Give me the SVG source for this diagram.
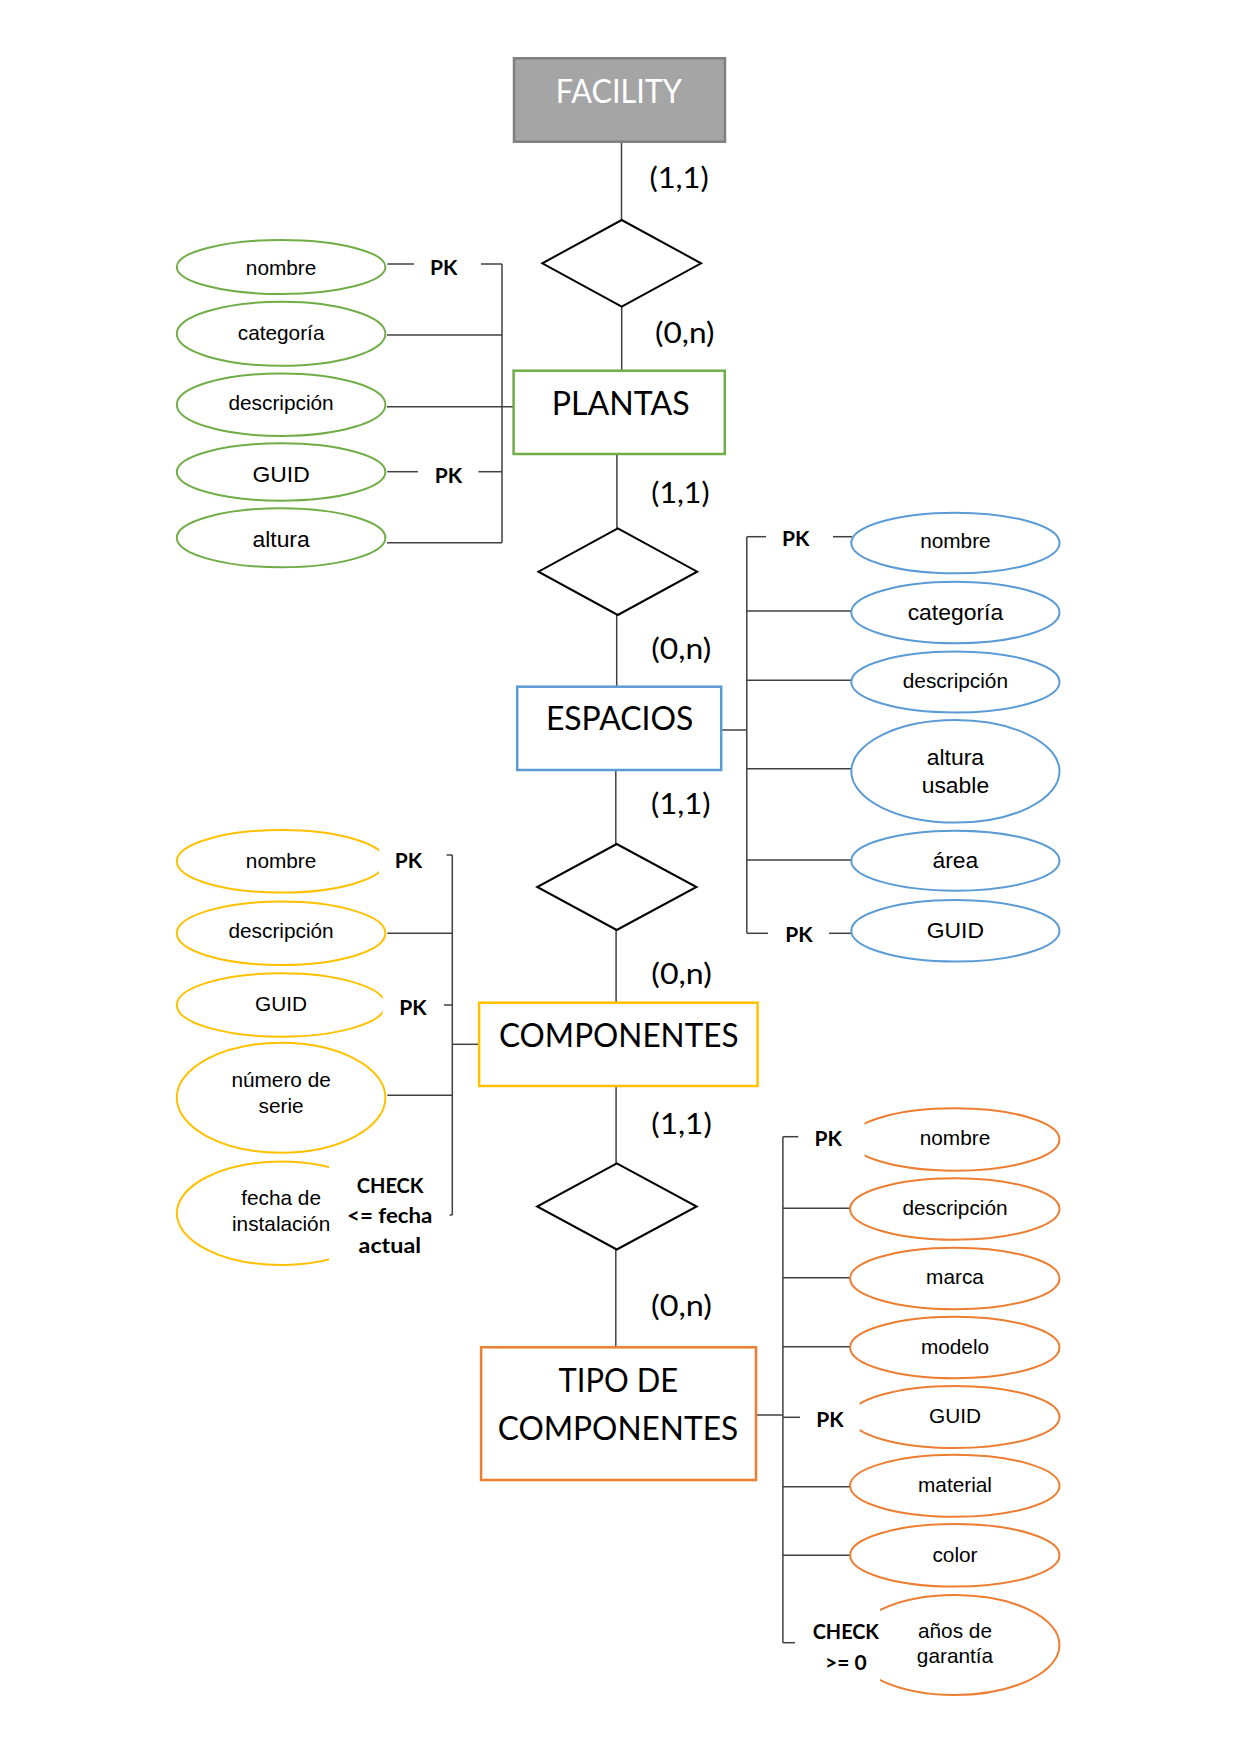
<svg xmlns="http://www.w3.org/2000/svg" width="1241" height="1754" viewBox="0 0 1241 1754">
<style>
.conn{stroke:#404040;stroke-width:1.5;fill:none}
.rel{fill:#fff;stroke:#000;stroke-width:2}
.ent{fill:#fff;stroke-width:2.5}
.attr{fill:#fff;stroke-width:2}
.g{stroke:#70ad47}.b{stroke:#5b9bd5}.y{stroke:#ffc000}.o{stroke:#ed7d31}
.at{font-family:"Liberation Sans",Arial,sans-serif;font-size:20.8px;text-anchor:middle;fill:#000}
.l{font-size:22.9px}
.et{font-family:Lato,"Open Sans",sans-serif;font-size:32.5px;fill:#000}
.card{font-family:Lato,"Open Sans",sans-serif;font-size:29px;fill:#000}
.pk{font-family:Lato,"Open Sans",sans-serif;font-weight:bold;font-size:21px;fill:#000}
.mid{text-anchor:middle}
.mask{fill:#fff;stroke:none}
</style>
<rect width="1241" height="1754" fill="#fff"/>

<g id="connectors">
  <!-- spine -->
  <line class="conn" x1="621.5" y1="141.7" x2="621.5" y2="220"/>
  <line class="conn" x1="621.7" y1="306.7" x2="621.7" y2="370.7"/>
  <line class="conn" x1="616.9" y1="454" x2="616.9" y2="528.3"/>
  <line class="conn" x1="616.7" y1="615" x2="616.7" y2="686.7"/>
  <line class="conn" x1="615.8" y1="770" x2="615.8" y2="844"/>
  <line class="conn" x1="616.1" y1="930" x2="616.1" y2="1002.7"/>
  <line class="conn" x1="616.1" y1="1086" x2="616.1" y2="1163.3"/>
  <line class="conn" x1="615.8" y1="1249.3" x2="615.8" y2="1347.3"/>
  <!-- PLANTAS attributes -->
  <line class="conn" x1="502" y1="264" x2="502" y2="542.7"/>
  <line class="conn" x1="387.3" y1="264" x2="414" y2="264"/>
  <line class="conn" x1="481" y1="264" x2="502" y2="264"/>
  <line class="conn" x1="387" y1="335" x2="502" y2="335"/>
  <line class="conn" x1="387" y1="406.7" x2="513.6" y2="406.7"/>
  <line class="conn" x1="387.3" y1="471.7" x2="417.9" y2="471.7"/>
  <line class="conn" x1="478.4" y1="471.7" x2="502" y2="471.7"/>
  <line class="conn" x1="387" y1="542.7" x2="502" y2="542.7"/>
  <!-- ESPACIOS attributes -->
  <line class="conn" x1="721.2" y1="730" x2="746.8" y2="730"/>
  <line class="conn" x1="746.8" y1="536.7" x2="746.8" y2="933.3"/>
  <line class="conn" x1="746.8" y1="536.7" x2="766" y2="536.7"/>
  <line class="conn" x1="833" y1="536.7" x2="852" y2="536.7"/>
  <line class="conn" x1="746.8" y1="611" x2="851.3" y2="611"/>
  <line class="conn" x1="746.8" y1="680.3" x2="851.3" y2="680.3"/>
  <line class="conn" x1="746.8" y1="768.7" x2="851.3" y2="768.7"/>
  <line class="conn" x1="746.8" y1="860" x2="851.3" y2="860"/>
  <line class="conn" x1="746.8" y1="933.3" x2="768" y2="933.3"/>
  <line class="conn" x1="829" y1="933.3" x2="851.3" y2="933.3"/>
  <!-- COMPONENTES attributes -->
  <line class="conn" x1="452.3" y1="855" x2="452.3" y2="1215"/>
  <line class="conn" x1="446.6" y1="855" x2="452.3" y2="855"/>
  <line class="conn" x1="387.3" y1="933.3" x2="452.3" y2="933.3"/>
  <line class="conn" x1="444" y1="1005" x2="452.3" y2="1005"/>
  <line class="conn" x1="452.3" y1="1044.3" x2="479.1" y2="1044.3"/>
  <line class="conn" x1="387.3" y1="1095.3" x2="452.3" y2="1095.3"/>
  <line class="conn" x1="449.5" y1="1215" x2="452.3" y2="1215"/>
  <!-- TIPO DE COMPONENTES attributes -->
  <line class="conn" x1="756" y1="1415" x2="782.9" y2="1415"/>
  <line class="conn" x1="782.9" y1="1136.7" x2="782.9" y2="1642.7"/>
  <line class="conn" x1="782.9" y1="1136.7" x2="798.3" y2="1136.7"/>
  <line class="conn" x1="782.9" y1="1208.3" x2="850" y2="1208.3"/>
  <line class="conn" x1="782.9" y1="1277.7" x2="850" y2="1277.7"/>
  <line class="conn" x1="782.9" y1="1346.7" x2="850" y2="1346.7"/>
  <line class="conn" x1="782.9" y1="1417.3" x2="800" y2="1417.3"/>
  <line class="conn" x1="782.9" y1="1486.7" x2="850" y2="1486.7"/>
  <line class="conn" x1="782.9" y1="1555.3" x2="850" y2="1555.3"/>
  <line class="conn" x1="782.9" y1="1642.7" x2="795" y2="1642.7"/>
  <!-- cardinalities -->
  <text class="card" x="649.4" y="188" textLength="59.3" lengthAdjust="spacingAndGlyphs">(1,1)</text>
  <text class="card" x="655" y="343" textLength="59.5" lengthAdjust="spacingAndGlyphs">(0,n)</text>
  <text class="card" x="651.3" y="503" textLength="58.2" lengthAdjust="spacingAndGlyphs">(1,1)</text>
  <text class="card" x="651.2" y="658.5" textLength="60" lengthAdjust="spacingAndGlyphs">(0,n)</text>
  <text class="card" x="651" y="813.5" textLength="59.5" lengthAdjust="spacingAndGlyphs">(1,1)</text>
  <text class="card" x="651.3" y="984" textLength="60.5" lengthAdjust="spacingAndGlyphs">(0,n)</text>
  <text class="card" x="651.3" y="1133.5" textLength="60.5" lengthAdjust="spacingAndGlyphs">(1,1)</text>
  <text class="card" x="651" y="1316" textLength="61" lengthAdjust="spacingAndGlyphs">(0,n)</text>
</g>

<!-- entities -->
<g id="facility">
  <rect x="514" y="58.3" width="211" height="83.4" fill="#a5a5a5" stroke="#7f7f7f" stroke-width="2.5"/>
  <text class="et" x="555.7" y="102.7" fill="#fff" style="fill:#fff" textLength="126.3" lengthAdjust="spacingAndGlyphs">FACILITY</text>
</g>
<g id="plantas">
  <rect class="ent g" x="513.6" y="370.7" width="211.2" height="83.3"/>
  <text class="et" x="551.8" y="415" textLength="137.8" lengthAdjust="spacingAndGlyphs">PLANTAS</text>
</g>
<g id="espacios">
  <rect class="ent b" x="517.2" y="686.7" width="204" height="83.3"/>
  <text class="et" x="545.9" y="730" textLength="147.4" lengthAdjust="spacingAndGlyphs">ESPACIOS</text>
</g>
<g id="componentes">
  <rect class="ent y" x="479.1" y="1002.7" width="278.5" height="83.3"/>
  <text class="et" x="499" y="1046.7" textLength="239.6" lengthAdjust="spacingAndGlyphs">COMPONENTES</text>
</g>
<g id="tipo-componentes">
  <rect class="ent o" x="481.1" y="1347.3" width="274.9" height="132.7"/>
  <text class="et" x="558.6" y="1391.7" textLength="119.4" lengthAdjust="spacingAndGlyphs">TIPO DE</text>
  <text class="et" x="497.7" y="1440" textLength="240.4" lengthAdjust="spacingAndGlyphs">COMPONENTES</text>
</g>

<!-- relationships -->
<g id="rel-facility-plantas"><polygon class="rel" points="621.7,220 701.1,263.3 621.7,306.7 542.3,263.3"/></g>
<g id="rel-plantas-espacios"><polygon class="rel" points="617.8,528.3 697.2,571.7 617.8,615 538.4,571.7"/></g>
<g id="rel-espacios-componentes"><polygon class="rel" points="616.7,844 696.5,887 616.7,930 537.2,887"/></g>
<g id="rel-componentes-tipo"><polygon class="rel" points="616.8,1163.3 696.7,1206.5 616.8,1249.5 537.1,1206.5"/></g>

<!-- PLANTAS attributes -->
<g id="plantas-nombre"><ellipse class="attr g" cx="281.1" cy="267" rx="104.3" ry="27"/><text class="at" x="281.1" y="275">nombre</text></g>
<g id="plantas-categoria"><ellipse class="attr g" cx="281.1" cy="333.8" rx="104.3" ry="32"/><text class="at" x="281.1" y="339.5">categoría</text></g>
<g id="plantas-descripcion"><ellipse class="attr g" cx="281.1" cy="404.7" rx="104.3" ry="31.3"/><text class="at" x="281.1" y="410">descripción</text></g>
<g id="plantas-guid"><ellipse class="attr g" cx="281.1" cy="472" rx="104.3" ry="28.7"/><text class="at l" x="281.1" y="481.7">GUID</text></g>
<g id="plantas-altura"><ellipse class="attr g" cx="281.1" cy="537.8" rx="104.3" ry="29.5"/><text class="at l" x="281.1" y="546.7">altura</text></g>

<!-- ESPACIOS attributes -->
<g id="espacios-nombre"><ellipse class="attr b" cx="955.4" cy="543" rx="104.1" ry="30.3"/><text class="at" x="955.4" y="548.3">nombre</text></g>
<g id="espacios-categoria"><ellipse class="attr b" cx="955.4" cy="612.5" rx="104.1" ry="30.8"/><text class="at l" x="955.4" y="620">categoría</text></g>
<g id="espacios-descripcion"><ellipse class="attr b" cx="955.4" cy="682" rx="104.1" ry="30.5"/><text class="at" x="955.4" y="688.3">descripción</text></g>
<g id="espacios-altura-usable"><ellipse class="attr b" cx="955.4" cy="771.3" rx="104.1" ry="51.3"/><text class="at l" x="955.4" y="765">altura</text><text class="at l" x="955.4" y="793.3">usable</text></g>
<g id="espacios-area"><ellipse class="attr b" cx="955.4" cy="860.7" rx="104.1" ry="30"/><text class="at l" x="955.4" y="868.3">área</text></g>
<g id="espacios-guid"><ellipse class="attr b" cx="955.4" cy="930.8" rx="104.1" ry="30.8"/><text class="at l" x="955.4" y="938.3">GUID</text></g>

<!-- COMPONENTES attributes -->
<g id="componentes-nombre"><ellipse class="attr y" cx="281.1" cy="861.3" rx="104.3" ry="31.3"/><rect class="mask" x="379" y="826" width="66" height="72"/><text class="at" x="281.1" y="868.3">nombre</text></g>
<g id="componentes-descripcion"><ellipse class="attr y" cx="281.1" cy="933.3" rx="104.3" ry="31.7"/><text class="at" x="281.1" y="938.3">descripción</text></g>
<g id="componentes-guid"><ellipse class="attr y" cx="281.1" cy="1005" rx="104.3" ry="31.7"/><rect class="mask" x="382.7" y="970" width="60" height="72"/><text class="at" x="281.1" y="1010.7">GUID</text></g>
<g id="componentes-numero-serie"><ellipse class="attr y" cx="281.1" cy="1097.7" rx="104.3" ry="55"/><text class="at" x="281.1" y="1086.7">número de</text><text class="at" x="281.1" y="1112.7">serie</text></g>
<g id="componentes-fecha-instalacion"><ellipse class="attr y" cx="281.1" cy="1213.3" rx="104.3" ry="51.7"/><rect class="mask" x="329" y="1155" width="119" height="116"/><text class="at" x="281.1" y="1205">fecha de</text><text class="at" x="281.1" y="1231">instalación</text></g>

<!-- TIPO DE COMPONENTES attributes -->
<g id="tipo-nombre"><ellipse class="attr o" cx="954.8" cy="1139.5" rx="104.7" ry="31.2"/><rect class="mask" x="800" y="1104" width="64.6" height="72"/><text class="at" x="955" y="1145">nombre</text></g>
<g id="tipo-descripcion"><ellipse class="attr o" cx="954.8" cy="1209" rx="104.7" ry="30.8"/><text class="at" x="955" y="1215">descripción</text></g>
<g id="tipo-marca"><ellipse class="attr o" cx="954.8" cy="1278.5" rx="104.7" ry="30.8"/><text class="at" x="955" y="1284">marca</text></g>
<g id="tipo-modelo"><ellipse class="attr o" cx="954.8" cy="1347.5" rx="104.7" ry="30.8"/><text class="at" x="955" y="1354">modelo</text></g>
<g id="tipo-guid"><ellipse class="attr o" cx="954.8" cy="1417" rx="104.7" ry="31"/><rect class="mask" x="801" y="1382" width="58.6" height="72"/><text class="at" x="955" y="1422.7">GUID</text></g>
<g id="tipo-material"><ellipse class="attr o" cx="954.8" cy="1485.8" rx="104.7" ry="31"/><text class="at" x="955" y="1491.7">material</text></g>
<g id="tipo-color"><ellipse class="attr o" cx="954.8" cy="1555.3" rx="104.7" ry="31.3"/><text class="at" x="955" y="1561.7">color</text></g>
<g id="tipo-anos-garantia"><ellipse class="attr o" cx="954.8" cy="1645" rx="104.7" ry="50"/><rect class="mask" x="797" y="1590" width="83" height="112"/><text class="at" x="955" y="1637.7">años de</text><text class="at" x="955" y="1663">garantía</text></g>

<!-- key / constraint labels -->
<g id="constraint-labels">
  <text class="pk mid" x="443.8" y="275">PK</text>
  <text class="pk mid" x="448.5" y="482.7">PK</text>
  <text class="pk mid" x="795.6" y="546">PK</text>
  <text class="pk mid" x="799" y="941.7">PK</text>
  <text class="pk mid" x="408.4" y="868.3">PK</text>
  <text class="pk mid" x="413" y="1015">PK</text>
  <text class="pk mid" x="828.3" y="1146">PK</text>
  <text class="pk mid" x="830" y="1426.7">PK</text>
  <text class="pk" x="356.7" y="1192.7" textLength="66.9" lengthAdjust="spacingAndGlyphs">CHECK</text>
  <text class="pk" x="347" y="1222.7" textLength="85.4" lengthAdjust="spacingAndGlyphs">&lt;= fecha</text>
  <text class="pk" x="358.6" y="1253.3" textLength="62.4" lengthAdjust="spacingAndGlyphs">actual</text>
  <text class="pk" x="812.7" y="1639.3" textLength="66.3" lengthAdjust="spacingAndGlyphs">CHECK</text>
  <text class="pk" x="825" y="1670" textLength="41.7" lengthAdjust="spacingAndGlyphs">&gt;= 0</text>
</g>
</svg>
